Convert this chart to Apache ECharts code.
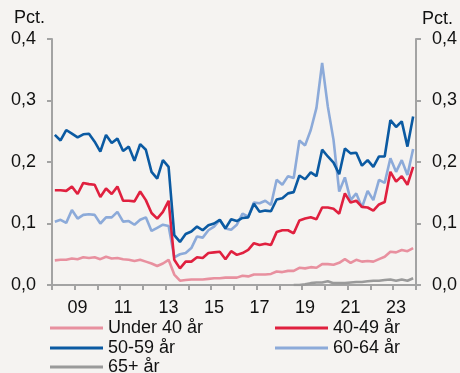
<!DOCTYPE html>
<html>
<head>
<meta charset="utf-8">
<script src="https://cdn.jsdelivr.net/npm/echarts@6/dist/echarts.min.js"></script>
<style>
html,body{margin:0;padding:0;background:#f5f3f1;}
#c{width:460px;height:373px;}
</style>
</head>
<body>
<div id="c"></div>
<script>
// Quarterly categories 2008K1 - 2023K4
var years = [2008,2009,2010,2011,2012,2013,2014,2015,2016,2017,2018,2019,2020,2021,2022,2023];
var quarters = ['K1','K2','K3','K4'];
var tickLabelYears = ['09','11','13','15','17','19','21','23'];

var under40 = [0.040,0.041,0.041,0.043,0.042,0.045,0.044,0.045,0.042,0.046,0.043,0.044,0.042,0.041,0.039,0.041,
               0.038,0.035,0.031,0.035,0.041,0.017,0.007,0.008,0.009,0.009,0.009,0.010,0.011,0.011,0.012,0.012,
               0.012,0.015,0.014,0.017,0.017,0.017,0.018,0.022,0.021,0.023,0.023,0.028,0.027,0.029,0.028,0.034,
               0.034,0.033,0.036,0.042,0.036,0.041,0.038,0.039,0.038,0.042,0.046,0.054,0.053,0.057,0.055,0.060];
var age4049 = [0.154,0.154,0.153,0.160,0.148,0.166,0.164,0.163,0.143,0.157,0.148,0.160,0.137,0.137,0.136,0.152,
               0.138,0.117,0.108,0.119,0.137,0.041,0.027,0.038,0.038,0.045,0.044,0.052,0.053,0.054,0.042,0.055,
               0.049,0.052,0.057,0.068,0.065,0.067,0.065,0.086,0.089,0.089,0.084,0.105,0.108,0.110,0.107,0.126,
               0.126,0.124,0.116,0.149,0.134,0.137,0.127,0.126,0.121,0.131,0.135,0.184,0.168,0.177,0.163,0.192];
var age5059 = [0.244,0.235,0.252,0.246,0.240,0.245,0.246,0.233,0.217,0.244,0.231,0.238,0.218,0.225,0.202,0.229,
               0.220,0.184,0.173,0.203,0.192,0.081,0.070,0.083,0.087,0.095,0.089,0.097,0.100,0.106,0.092,0.107,
               0.104,0.109,0.110,0.132,0.119,0.121,0.120,0.139,0.141,0.149,0.151,0.178,0.172,0.183,0.177,0.220,
               0.209,0.199,0.180,0.222,0.214,0.215,0.194,0.203,0.192,0.209,0.209,0.268,0.257,0.266,0.225,0.274];
var age6064 = [0.103,0.106,0.101,0.122,0.108,0.114,0.115,0.114,0.100,0.110,0.110,0.119,0.103,0.104,0.098,0.106,
               0.110,0.088,0.093,0.098,0.096,0.045,0.050,0.052,0.060,0.079,0.077,0.089,0.095,0.106,0.092,0.090,
               0.098,0.116,0.111,0.134,0.133,0.137,0.130,0.171,0.163,0.177,0.174,0.235,0.227,0.252,0.288,0.361,
               0.290,0.236,0.152,0.175,0.138,0.149,0.126,0.153,0.138,0.171,0.166,0.206,0.184,0.203,0.179,0.221];
var age65plus = [null,null,null,null,null,null,null,null,null,null,null,null,null,null,null,null,
                 null,null,null,null,null,null,null,null,null,null,null,null,null,null,null,null,
                 null,null,null,null,null,null,null,null,null,null,0.000,0.000,0.001,0.003,0.004,0.004,
                 0.006,0.003,0.003,0.003,0.004,0.005,0.005,0.006,0.007,0.007,0.008,0.009,0.007,0.009,0.007,0.011];

var seriesNames = ['Under 40 år','40-49 år','50-59 år','60-64 år','65+ år'];
var colors = {'Under 40 år':'#e8909f','40-49 år':'#e0203f','50-59 år':'#0b5aa2','60-64 år':'#8caad9','65+ år':'#9a9a9a'};

var categories = [];
years.forEach(function(y){ quarters.forEach(function(q){ categories.push(y + q); }); });

var chart = echarts.init(document.getElementById('c'), null, {renderer:'canvas'});
var FONT = 'Liberation Sans, Arial, sans-serif';
var axisGrey = '#a3a3a3';

function mkSeries(name, data, z){
  return {
    name: name, type: 'line', data: data, symbol: 'none', z: z,
    connectNulls: false,
    lineStyle: {color: colors[name], width: 2.6},
    itemStyle: {color: colors[name]},
    emphasis: {disabled: true}
  };
}

function mkLegend(name, left, top){
  return {
    data: [name], left: left, top: top, orient: 'horizontal',
    icon: 'rect', itemWidth: 53, itemHeight: 3, itemGap: 0, padding: 0,
    textStyle: {color: '#111', fontSize: 18, fontFamily: FONT, lineHeight: 18, padding: [0,0,0,0]},
    selectedMode: false
  };
}

var yAxisBase = {
  type: 'value', min: 0, max: 0.4, interval: 0.1,
  splitLine: {show: false},
  axisLine: {show: true, lineStyle: {color: axisGrey, width: 2}},
  axisTick: {show: true, length: 5, lineStyle: {color: axisGrey, width: 2}},
  axisLabel: {
    color: '#111', fontSize: 18, fontFamily: FONT, margin: 16,
    formatter: function(v){ return v.toFixed(1).replace('.', ','); }
  }
};

chart.setOption({
  backgroundColor: '#f5f3f1',
  animation: false,
  grid: {left: 52, right: 44, top: 39, bottom: 88, containLabel: false},
  xAxis: {
    type: 'category', data: categories, boundaryGap: true,
    axisLine: {show: true, lineStyle: {color: axisGrey, width: 2}},
    axisTick: {show: true, interval: 3, length: 5, lineStyle: {color: axisGrey, width: 2}},
    axisLabel: {
      color: '#111', fontSize: 18, fontFamily: FONT, margin: 14,
      interval: function(index){ return index % 8 === 4; },
      formatter: function(v){ return String(v).substr(2, 2); }
    }
  },
  yAxis: [
    Object.assign({}, yAxisBase, {position: 'left'}),
    Object.assign({}, yAxisBase, {position: 'right'})
  ],
  legend: [
    mkLegend('Under 40 år', 50, 319),
    mkLegend('50-59 år', 50, 339),
    mkLegend('65+ år', 50, 358),
    mkLegend('40-49 år', 275, 319),
    mkLegend('60-64 år', 275, 339)
  ],
  graphic: [
    {type: 'text', left: 14, top: 9, style: {text: 'Pct.', fill: '#111', font: '18px ' + FONT}},
    {type: 'text', left: 422, top: 10, style: {text: 'Pct.', fill: '#111', font: '18px ' + FONT}}
  ],
  series: [
    mkSeries('65+ år', age65plus, 1),
    mkSeries('Under 40 år', under40, 2),
    mkSeries('60-64 år', age6064, 3),
    mkSeries('40-49 år', age4049, 4),
    mkSeries('50-59 år', age5059, 5)
  ]
});
</script>
</body>
</html>
